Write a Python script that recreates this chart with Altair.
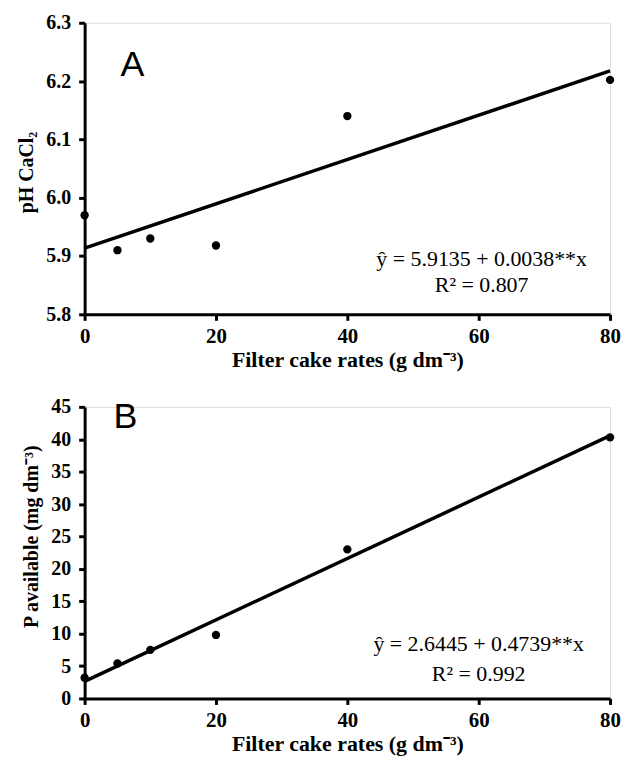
import altair as alt
import pandas as pd

# Data
rates = [0, 5, 10, 20, 40, 80]
ph_values = [5.97, 5.91, 5.93, 5.918, 6.14, 6.202]
p_values = [3.2, 5.4, 7.5, 9.8, 23.0, 40.3]

ph_intercept, ph_slope = 5.9135, 0.0038
p_intercept, p_slope = 2.6445, 0.4739

ph_eq = ["ŷ = 5.9135 + 0.0038**x", "R² = 0.807"]
p_eq = ["ŷ = 2.6445 + 0.4739**x", "R² = 0.992"]

x_range = [0, 80]
x_ticks = [0, 20, 40, 60, 80]
ph_ticks = [5.8, 5.9, 6.0, 6.1, 6.2, 6.3]
p_ticks = [0, 5, 10, 15, 20, 25, 30, 35, 40, 45]

SERIF = "Liberation Serif"
SANS = "Liberation Sans"
W, H = 528, 293


def panel(values, intercept, slope, ydomain, yticks, yfmt, ytitle, ytitle_y, letter, eq, letter_pos, eq_pos):
    pts = pd.DataFrame({"x": rates, "y": values})
    line = pd.DataFrame({"x": x_range, "y": [intercept + slope * v for v in x_range]})
    xs = alt.Scale(domain=x_range, nice=False)
    ys = alt.Scale(domain=ydomain, nice=False, zero=False)
    xaxis = alt.Axis(
        values=x_ticks, title="Filter cake rates (g dm⁻³)", grid=False,
        domainColor="black", domainWidth=3, tickColor="black", tickWidth=3, tickSize=6,
        labelFont=SERIF, labelFontWeight="bold", labelFontSize=21, labelColor="black",
        labelPadding=5, titleFont=SERIF, titleFontWeight="bold", titleFontSize=22,
        titleColor="black", titlePadding=3, labelFlush=False, labelOverlap=False,
    )
    yaxis = alt.Axis(
        values=yticks, format=yfmt, title=ytitle, grid=False,
        domainColor="black", domainWidth=3, tickColor="black", tickWidth=3, tickSize=6,
        labelFont=SERIF, labelFontWeight="bold", labelFontSize=20, labelColor="black",
        labelPadding=8, titleFont=SERIF, titleFontWeight="bold", titleFontSize=20,
        titleColor="black", titlePadding=9, labelFlush=False, labelOverlap=False,
        titleY=ytitle_y,
    )
    l = alt.Chart(line).mark_line(color="black", strokeWidth=3.5).encode(
        x=alt.X("x:Q", scale=xs, axis=xaxis),
        y=alt.Y("y:Q", scale=ys, axis=yaxis),
    )
    p = alt.Chart(pts).mark_circle(color="black", opacity=1, size=70).encode(
        x=alt.X("x:Q", scale=xs, axis=xaxis),
        y=alt.Y("y:Q", scale=ys, axis=yaxis),
    )
    lab = alt.Chart(pd.DataFrame({"t": [letter]})).mark_text(
        font=SANS, fontSize=36, color="black", align="center", baseline="middle"
    ).encode(x=alt.value(letter_pos[0]), y=alt.value(letter_pos[1]), text="t:N")
    eqdf = pd.DataFrame({"t": eq})
    e1 = alt.Chart(eqdf.iloc[[0]]).mark_text(
        font=SERIF, fontSize=22, color="black", align="center", baseline="middle"
    ).encode(x=alt.value(eq_pos[0]), y=alt.value(eq_pos[1]), text="t:N")
    e2 = alt.Chart(eqdf.iloc[[1]]).mark_text(
        font=SERIF, fontSize=22, color="black", align="center", baseline="middle"
    ).encode(x=alt.value(eq_pos[0]), y=alt.value(eq_pos[1] + eq_pos[2]), text="t:N")
    return alt.layer(l, p, lab, e1, e2).properties(width=W, height=H)


a = panel(ph_values, ph_intercept, ph_slope, [5.8, 6.3], ph_ticks, ".1f", "pH CaCl₂", 150, "A",
          ph_eq, (48, 42), (399, 237, 27))
b = panel(p_values, p_intercept, p_slope, [0, 45], p_ticks, "d", "P available (mg dm⁻³)", 130, "B",
          p_eq, (41, 10), (396, 238, 30))

chart = alt.vconcat(a, b, spacing=25).properties(
    padding={"left": 8, "top": 2, "right": 0, "bottom": 0}
).configure_view(stroke=None).configure(background="white")

chart.save("out.html", embed_options={"renderer": "svg", "actions": False})
